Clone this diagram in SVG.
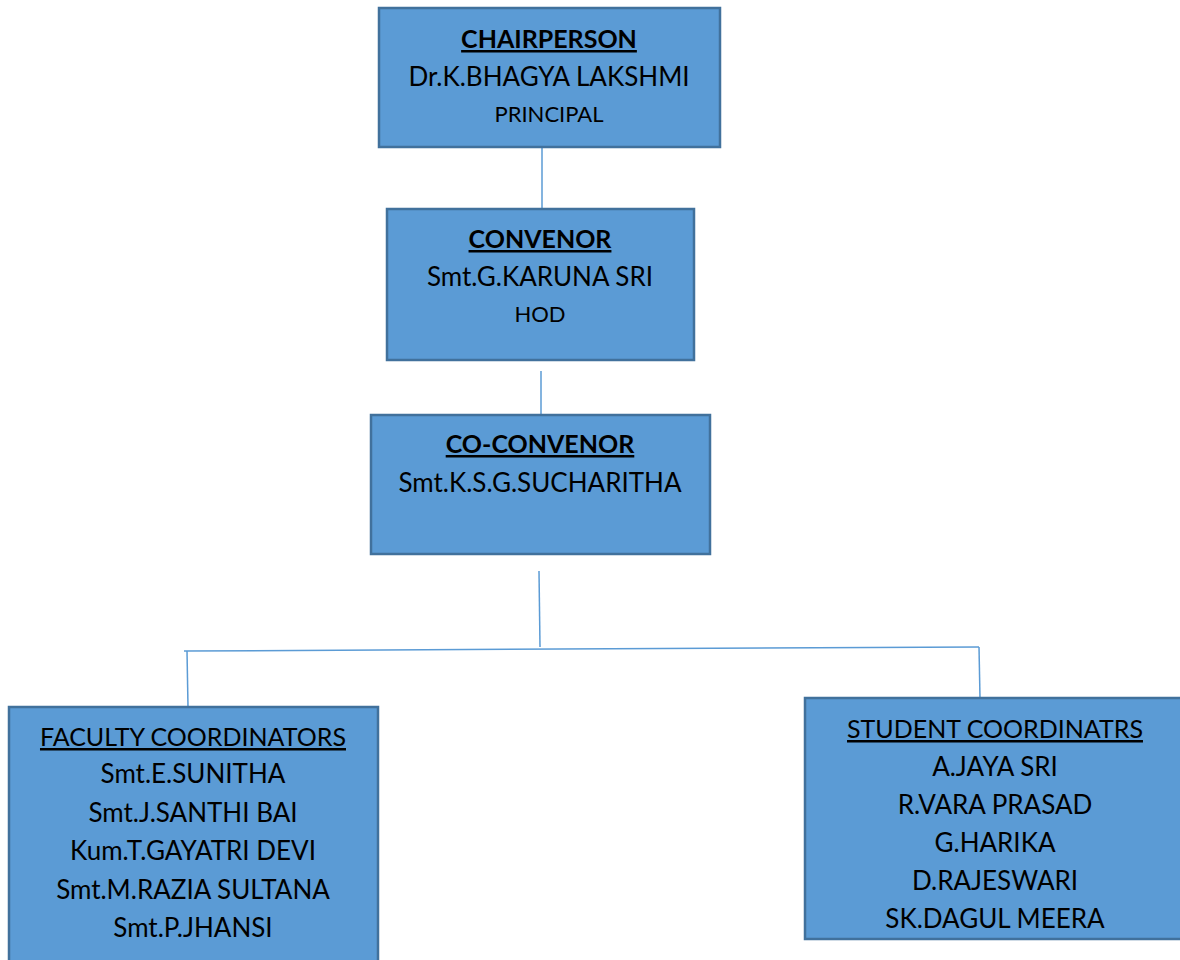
<svg xmlns="http://www.w3.org/2000/svg" width="1180" height="960" viewBox="0 0 1180 960">
<style>
.box{fill:#5B9BD5;stroke:#41719C;stroke-width:2.5}
.conn{stroke:#5B9BD5;stroke-width:1.5;fill:none}
text{font-family:Lato,"Open Sans","Liberation Sans",sans-serif;fill:#000;text-anchor:middle}
.t{font-size:25px;font-weight:bold;text-decoration:underline}
.h{font-size:25px;text-decoration:underline}
.n{font-size:26px}
.s{font-size:22px}
</style>
<rect width="1180" height="960" fill="#fff"/>
<g id="connectors">
<line class="conn" x1="542" y1="148" x2="542" y2="208"/>
<line class="conn" x1="541" y1="371" x2="541" y2="415"/>
<line class="conn" x1="539" y1="571" x2="540" y2="647"/>
<line class="conn" x1="184" y1="651" x2="979" y2="647"/>
<line class="conn" x1="187" y1="651" x2="188" y2="707"/>
<line class="conn" x1="979" y1="647" x2="980" y2="698"/>
</g>
<g id="chairperson">
<rect class="box" x="379" y="8" width="341" height="139"/>
<text class="t" x="549" y="48">CHAIRPERSON</text>
<text class="n" x="549" y="86">Dr.K.BHAGYA LAKSHMI</text>
<text class="s" x="549" y="122">PRINCIPAL</text>
</g>
<g id="convenor">
<rect class="box" x="387" y="209" width="307" height="151"/>
<text class="t" x="540" y="248">CONVENOR</text>
<text class="n" x="540" y="286">Smt.G.KARUNA SRI</text>
<text class="s" x="540" y="322">HOD</text>
</g>
<g id="co-convenor">
<rect class="box" x="371" y="415" width="339" height="139"/>
<text class="t" x="540" y="453">CO-CONVENOR</text>
<text class="n" x="540" y="492">Smt.K.S.G.SUCHARITHA</text>
</g>
<g id="faculty">
<rect class="box" x="9" y="707" width="369" height="270"/>
<text class="h" x="193" y="746">FACULTY COORDINATORS</text>
<text class="n" x="193" y="783">Smt.E.SUNITHA</text>
<text class="n" x="193" y="822">Smt.J.SANTHI BAI</text>
<text class="n" x="193" y="860">Kum.T.GAYATRI DEVI</text>
<text class="n" x="193" y="899">Smt.M.RAZIA SULTANA</text>
<text class="n" x="193" y="937">Smt.P.JHANSI</text>
</g>
<g id="students">
<rect class="box" x="805" y="698" width="400" height="241"/>
<text class="h" x="995" y="738">STUDENT COORDINATRS</text>
<text class="n" x="995" y="776">A.JAYA SRI</text>
<text class="n" x="995" y="814">R.VARA PRASAD</text>
<text class="n" x="995" y="852">G.HARIKA</text>
<text class="n" x="995" y="890">D.RAJESWARI</text>
<text class="n" x="995" y="928">SK.DAGUL MEERA</text>
</g>
</svg>
